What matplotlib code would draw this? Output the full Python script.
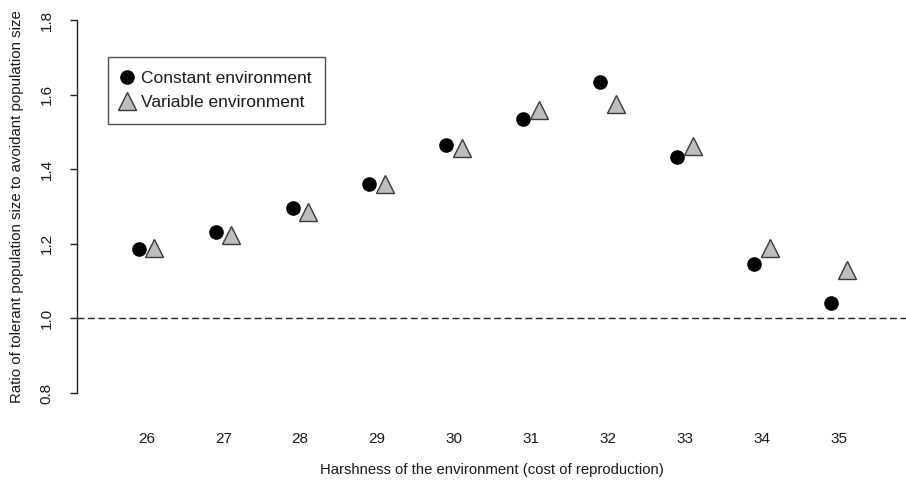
import matplotlib
matplotlib.use("Agg")
import matplotlib.pyplot as plt

plt.rcParams['font.family'] = ['Liberation Sans', 'DejaVu Sans']

harshness = [26, 27, 28, 29, 30, 31, 32, 33, 34, 35]
constant_env = [1.185, 1.231, 1.295, 1.359, 1.466, 1.534, 1.635, 1.432, 1.147, 1.040]
variable_env = [1.188, 1.223, 1.284, 1.359, 1.458, 1.560, 1.574, 1.461, 1.190, 1.129]
y_ticks = [0.8, 1.0, 1.2, 1.4, 1.6, 1.8]
offset = 0.1

W, H = 906, 483
fig = plt.figure(figsize=(W / 100, H / 100), dpi=100)
left_px, right_px = 77, 906
top_px, bot_px = 1.35, 411.65
ax = fig.add_axes([left_px / W, 1 - bot_px / H, (right_px - left_px) / W, (bot_px - top_px) / H])

txt = '#1a1a1a'
ax.axhline(1.0, color='#222222', lw=1.0, ls=(0, (5, 2.5)), zorder=1)

ax.plot([h - offset for h in harshness], constant_env, 'o', ms=9.5, color='black',
        mec='black', zorder=3, label='Constant environment')
ax.plot([h + offset for h in harshness], variable_env, '^', ms=13.5, mfc='#bdbdbd',
        mec='#3a3a3a', mew=1.0, zorder=3, label='Variable environment')

ax.set_xlim(25.1, 35.87)
ax.set_ylim(0.75, 1.85)
ax.set_xticks(harshness)
ax.set_xticklabels([str(h) for h in harshness])
ax.set_yticks(y_ticks)
ax.set_yticklabels([f'{v:.1f}' for v in y_ticks])

for s in ['top', 'right', 'bottom']:
    ax.spines[s].set_visible(False)
ax.spines['left'].set_bounds(0.8, 1.8)
ax.spines['left'].set_color('#222222')
ax.spines['left'].set_linewidth(1.0)

ax.tick_params(axis='x', length=0, pad=15, labelsize=11, labelcolor=txt)
ax.tick_params(axis='y', length=5, width=1.0, color='#222222', pad=12, labelsize=11, labelcolor=txt)
for lab in ax.get_yticklabels():
    lab.set_rotation(90)
    lab.set_va('center')

ax.set_xlabel('Harshness of the environment (cost of reproduction)', fontsize=10.7, color=txt)
ax.xaxis.set_label_coords(0.5, -0.125)
ax.set_ylabel('Ratio of tolerant population size to avoidant population size', fontsize=10.8, color=txt)
ax.yaxis.set_label_coords(-0.064, 0.5)

leg = ax.legend(loc='upper left', bbox_to_anchor=(108 / W, 1 - 57 / H), bbox_transform=fig.transFigure,
                fontsize=12.5, frameon=True, fancybox=False, edgecolor='#222222',
                handlelength=0.6, handletextpad=0.5, borderpad=0.8, labelspacing=0.5,
                borderaxespad=0)
leg.get_frame().set_linewidth(1.0)
for t in leg.get_texts():
    t.set_color(txt)

fig.savefig('out.png', dpi=100)
